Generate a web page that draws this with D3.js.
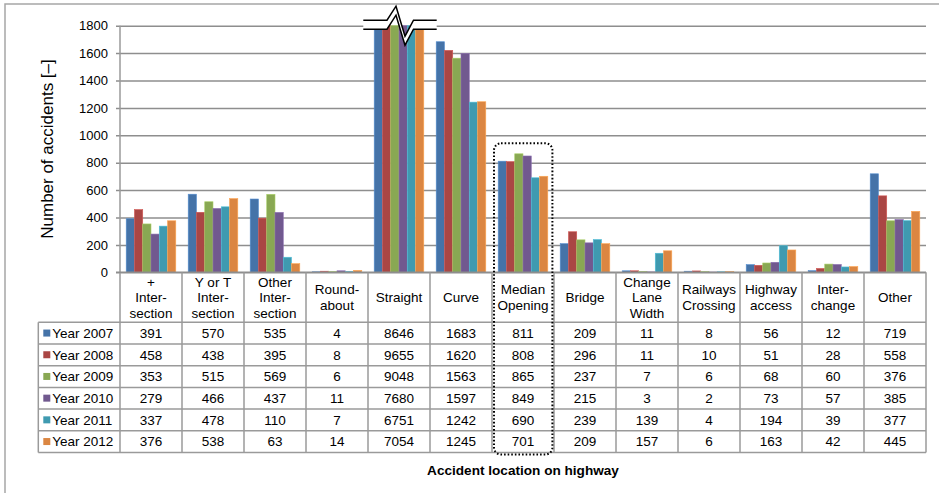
<!DOCTYPE html>
<html>
<head>
<meta charset="utf-8">
<script src="https://cdn.jsdelivr.net/npm/d3@7"></script>
<style>
  html, body { margin: 0; padding: 0; background: #fff; }
  svg { display: block; font-family: "Liberation Sans", Arial, sans-serif; }
</style>
</head>
<body>
<svg id="chart" width="939" height="493"></svg>
<script>
// Accident counts by location on highway, 2007–2012
const categories = [
  "+\nInter-\nsection", "Y or T\nInter-\nsection", "Other\nInter-\nsection",
  "Round-\nabout", "Straight", "Curve", "Median\nOpening", "Bridge",
  "Change\nLane\nWidth", "Railways\nCrossing", "Highway\naccess",
  "Inter-\nchange", "Other"
];
const seriesNames = ["Year 2007", "Year 2008", "Year 2009", "Year 2010", "Year 2011", "Year 2012"];
const year2007 = [391, 570, 535, 4, 8646, 1683, 811, 209, 11, 8, 56, 12, 719];
const year2008 = [458, 438, 395, 8, 9655, 1620, 808, 296, 11, 10, 51, 28, 558];
const year2009 = [353, 515, 569, 6, 9048, 1563, 865, 237, 7, 6, 68, 60, 376];
const year2010 = [279, 466, 437, 11, 7680, 1597, 849, 215, 3, 2, 73, 57, 385];
const year2011 = [337, 478, 110, 7, 6751, 1242, 690, 239, 139, 4, 194, 39, 377];
const year2012 = [376, 538, 63, 14, 7054, 1245, 701, 209, 157, 6, 163, 42, 445];
const yTicks = [0, 200, 400, 600, 800, 1000, 1200, 1400, 1600, 1800];
const colors = ["#4573A8", "#AA4644", "#89A853", "#71598F", "#3F9AB0", "#DB8642"];

const series = [year2007, year2008, year2009, year2010, year2011, year2012];
const brokenCategory = "Straight";
const highlightCategory = "Median\nOpening";

const svg = d3.select("#chart");
const plot = { left: 120, right: 926, top: 25.7, bottom: 272.3 };
const rowH = 21.7;
const headerBottom = 322.3;
const tableBottom = headerBottom + rowH * seriesNames.length;
const legendLeft = 38.3;
const gridColor = "#8e8e8e";
const tableColor = "#9a9a9a";
const fontFamily = "Liberation Sans, Arial, sans-serif";
const tableFont = 13.5;

// outer frame (left and top edges)
svg.append("path")
  .attr("d", "M5,493 L5,4 L939,4")
  .attr("fill", "none").attr("stroke", "#a6a6a6").attr("stroke-width", 1.5);

const x = d3.scaleBand().domain(categories).range([plot.left, plot.right]).paddingInner(0).paddingOuter(0);
const x1 = d3.scaleBand().domain(seriesNames)
  .range([x.bandwidth() * 0.1, x.bandwidth() * 0.9]).padding(0);
const y = d3.scaleLinear().domain([0, 1800]).range([plot.bottom, plot.top]).clamp(true);

// gridlines and value axis
const yAxis = d3.axisLeft(y).tickValues(yTicks).tickFormat(d3.format("d"))
  .tickSize(-(plot.right - plot.left)).tickPadding(12);
const gy = svg.append("g").attr("transform", `translate(${plot.left},0)`).call(yAxis);
gy.select(".domain").remove();
gy.selectAll(".tick line").attr("stroke", gridColor).attr("stroke-width", 1.5)
  .attr("x2", plot.right - plot.left).attr("x1", -4);
gy.selectAll(".tick text").attr("font-size", 13).attr("fill", "#000").attr("font-family", fontFamily);

// bars
const groups = svg.append("g").selectAll("g")
  .data(categories).join("g")
  .attr("transform", d => `translate(${x(d)},0)`);
groups.selectAll("rect")
  .data((c, ci) => seriesNames.map((s, si) => ({ s, v: series[si][ci], si })))
  .join("rect")
  .attr("x", d => x1(d.s))
  .attr("width", x1.bandwidth())
  .attr("y", d => y(d.v))
  .attr("height", d => y(0) - y(d.v))
  .attr("fill", d => colors[d.si])
  .attr("stroke", d => d3.color(colors[d.si]).brighter(0.6))
  .attr("stroke-width", 0.6);

// axis break over the off-scale group
{
  const cx = x(brokenCategory) + x.bandwidth() / 2 + 1;
  const top = y(1800) - 5.5, th = 9;
  const L = cx - 36.7, R = cx + 36.7;
  const upper = [[L, top], [cx - 13, top], [cx - 4, top - 14], [cx + 5, top + 16], [cx + 13.5, top], [R, top]];
  const lower = upper.map(p => [p[0], p[1] + th]);
  const line = d3.line();
  svg.append("path")
    .attr("d", line(upper.concat(lower.slice().reverse())) + "Z")
    .attr("fill", "#fff").attr("stroke", "none");
  svg.append("path").attr("d", line(upper)).attr("fill", "none").attr("stroke", "#000").attr("stroke-width", 1.5);
  svg.append("path").attr("d", line(lower)).attr("fill", "none").attr("stroke", "#000").attr("stroke-width", 1.5);
}

// vertical axis line, continuing as the table's left rule
svg.append("line").attr("x1", plot.left).attr("x2", plot.left).attr("y1", plot.top).attr("y2", tableBottom)
  .attr("stroke", tableColor).attr("stroke-width", 1.5);

// data table
const table = svg.append("g").attr("font-family", fontFamily);
table.append("line").attr("x1", plot.left - 4).attr("x2", plot.right).attr("y1", plot.bottom).attr("y2", plot.bottom)
  .attr("stroke", gridColor).attr("stroke-width", 1.5);
d3.range(seriesNames.length + 1).forEach(i => {
  table.append("line").attr("x1", legendLeft).attr("x2", plot.right)
    .attr("y1", headerBottom + i * rowH).attr("y2", headerBottom + i * rowH)
    .attr("stroke", tableColor).attr("stroke-width", 1.5);
});
categories.forEach(c => {
  table.append("line").attr("x1", x(c) + x.bandwidth()).attr("x2", x(c) + x.bandwidth())
    .attr("y1", plot.bottom).attr("y2", tableBottom)
    .attr("stroke", tableColor).attr("stroke-width", 1.5);
});
table.append("line").attr("x1", legendLeft).attr("x2", legendLeft)
  .attr("y1", headerBottom).attr("y2", tableBottom)
  .attr("stroke", tableColor).attr("stroke-width", 1.5);

// header labels
categories.forEach(c => {
  const lines = c.split("\n");
  const cy = (plot.bottom + headerBottom) / 2;
  const t = table.append("text")
    .attr("text-anchor", "middle")
    .attr("font-size", tableFont).attr("fill", "#000");
  lines.forEach((ln, i) => {
    t.append("tspan").attr("x", x(c) + x.bandwidth() / 2)
      .attr("y", cy + (i - (lines.length - 1) / 2) * 15.5 + 4.8)
      .text(ln);
  });
});

// rows: legend keys + values
seriesNames.forEach((s, si) => {
  const cy = headerBottom + si * rowH + rowH / 2;
  table.append("rect").attr("x", 43.3).attr("y", cy - 3.6).attr("width", 7).attr("height", 7)
    .attr("fill", colors[si]);
  table.append("text").attr("x", 52.3).attr("y", cy + 4.8)
    .attr("font-size", tableFont).attr("fill", "#000").text(s);
  categories.forEach((c, ci) => {
    table.append("text").attr("x", x(c) + x.bandwidth() / 2).attr("y", cy + 4.8)
      .attr("text-anchor", "middle").attr("font-size", tableFont).attr("fill", "#000")
      .text(series[si][ci]);
  });
});

// dotted outline around the highlighted column
{
  const x0 = x(highlightCategory) + 2, x2 = x(highlightCategory) + x.bandwidth() - 1.6;
  svg.append("rect")
    .attr("x", x0).attr("y", 143.3)
    .attr("width", x2 - x0).attr("height", tableBottom + 2 - 143.3)
    .attr("rx", 7).attr("ry", 7)
    .attr("fill", "none").attr("stroke", "#000")
    .attr("stroke-width", 2).attr("stroke-dasharray", "1.6,2");
}

// axis titles
svg.append("text")
  .attr("transform", `translate(53,${(plot.top + plot.bottom) / 2}) rotate(-90)`)
  .attr("text-anchor", "middle").attr("font-size", 17).attr("fill", "#000")
  .attr("font-family", fontFamily)
  .text("Number of accidents [–]");
svg.append("text")
  .attr("x", (plot.left + plot.right) / 2).attr("y", 474.5)
  .attr("text-anchor", "middle").attr("font-size", 13.6).attr("font-weight", "bold").attr("fill", "#000")
  .attr("font-family", fontFamily)
  .text("Accident location on highway");
</script>
</body>
</html>
